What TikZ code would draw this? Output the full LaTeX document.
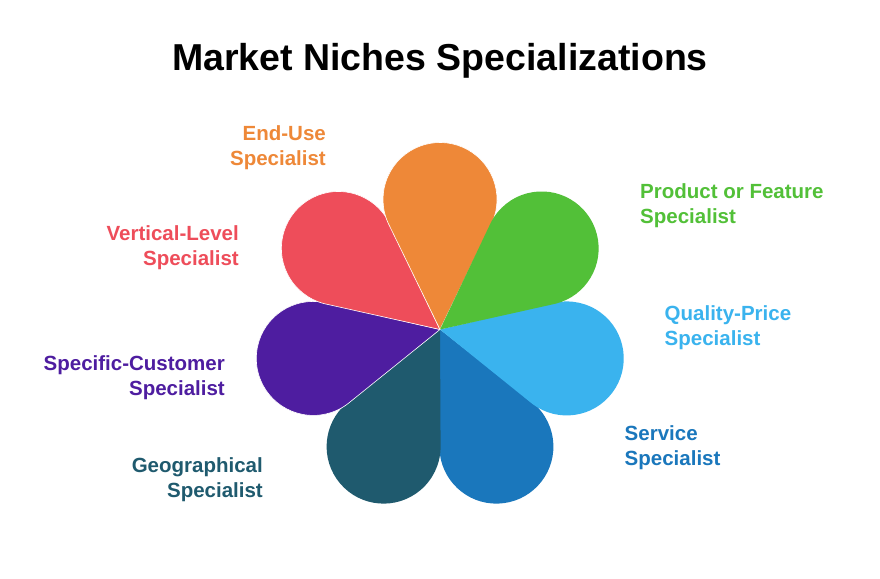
\documentclass[tikz,border=0pt]{standalone}
\usepackage{fontspec}
\setmainfont{Liberation Sans}
\usetikzlibrary{calc}
\definecolor{cOrange}{HTML}{EE8838}
\definecolor{cGreen}{HTML}{52C038}
\definecolor{cLight}{HTML}{3AB3EE}
\definecolor{cBlue}{HTML}{1A77BC}
\definecolor{cTeal}{HTML}{1F5A6E}
\definecolor{cPurple}{HTML}{4E1DA0}
\definecolor{cRed}{HTML}{EE4D5A}
\newcommand{\mypetal}[3]{%
  \fill[#2,#3] ($(O)+(#1:130)+(#1-114:57)$) arc[start angle=#1-114, end angle=#1+114, radius=57] -- (O) -- cycle;}
\begin{document}
\begin{tikzpicture}[x=1pt,y=1pt,
  lab/.style={font=\bfseries\fontsize{20.5}{25}\selectfont, inner sep=0pt},
  labR/.style={lab, align=right, anchor=north east},
  labL/.style={lab, align=left, anchor=north west},
  edge/.style={draw=white, line width=0.6pt}]
\useasboundingbox (0,0) rectangle (880,578);
\fill[white] (0,0) rectangle (880,578);
\coordinate (O) at (440,248.5);
% petals
\mypetal{-64.29}{cBlue}{}
\mypetal{-12.86}{cLight}{}
\mypetal{-115.71}{cTeal}{}
\mypetal{-167.14}{cPurple}{edge}
\mypetal{141.43}{cRed}{edge}
\mypetal{90}{cOrange}{edge}
\mypetal{38.57}{cGreen}{}
% title
\node[font=\bfseries\fontsize{37.5}{45}\selectfont, anchor=base, inner sep=0pt] (title) at (440,507) {Market Niches Specializations};
% labels
\node[labR, text=cOrange] (enduse) at (326,{593-140}) {End-Use\\Specialist};
\node[labR, text=cRed] (vertical) at (239,{593-240.7}) {Vertical-Level\\Specialist};
\node[labR, text=cPurple] (customer) at (225,{593-370}) {Specific-Customer\\Specialist};
\node[labR, text=cTeal] (geo) at (263,{593-472.7}) {Geographical\\Specialist};
\node[labL, text=cGreen] (product) at (640,{593-198.7}) {Product or Feature\\Specialist};
\node[labL, text=cLight] (quality) at (664.5,{593-320}) {Quality-Price\\Specialist};
\node[labL, text=cBlue] (service) at (624.5,{593-440.3}) {Service\\Specialist};
\end{tikzpicture}
\end{document}
